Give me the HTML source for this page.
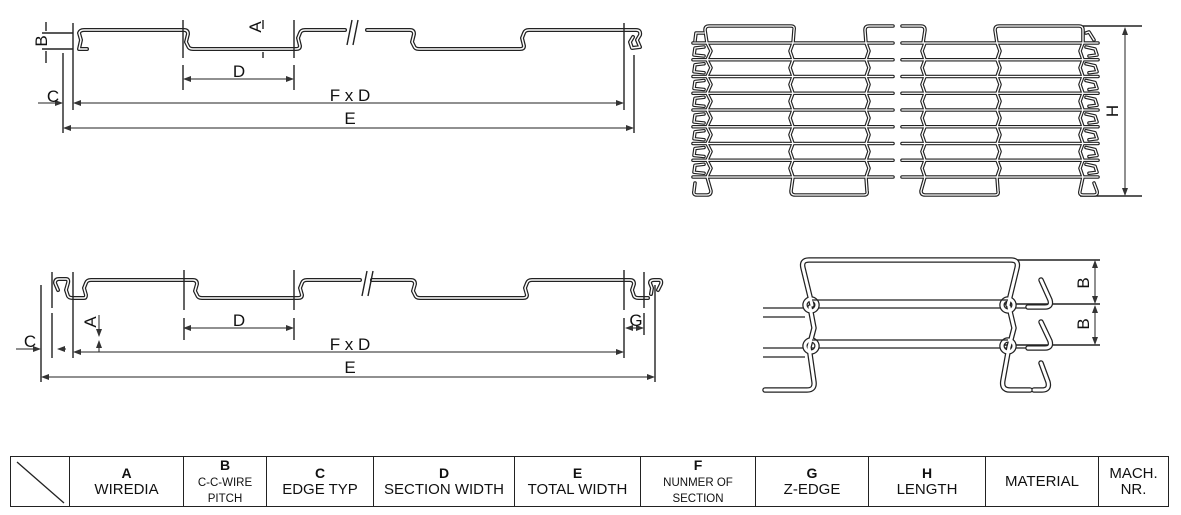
<!DOCTYPE html>
<html><head><meta charset="utf-8"><style>
html,body{margin:0;padding:0;background:#fff;width:1181px;height:515px;overflow:hidden;font-family:"Liberation Sans",Arial,sans-serif}
svg{position:absolute;left:0;top:0}
table{position:absolute;left:10px;top:456px;border-collapse:collapse;height:51px;table-layout:fixed}
td{border:1.5px solid #222;text-align:center;vertical-align:middle;padding:0;font-size:15px;line-height:16px;color:#111}
td b{font-size:14px}
.s{font-size:11.5px;line-height:12px}
</style></head><body>
<svg width="1181" height="515" viewBox="0 0 1181 515">
<defs>
<marker id="ar" markerWidth="8" markerHeight="6" refX="7" refY="3" orient="auto-start-reverse" markerUnits="userSpaceOnUse"><path d="M0,0 L8,3 L0,6 z" fill="#333"/></marker>
</defs>
<g fill="none" stroke-linejoin="round" stroke-linecap="round">
<path d="M87,49 L79,49 L81,40 L79,33 Q80,30 84,30 L184,30 Q188,30 188,34 L186,42 L188,46 Q189,49 193,49 L296,49 Q300,49 300,46 L298,38 L300,33 Q301,30 305,30 L345,30 M367,30 L410,30 Q414,30 414,34 L412,42 L414,46 Q415,49 419,49 L520,49 Q524,49 524,46 L522,38 L524,33 Q525,30 529,30 L636,30 Q641,30 640,35 L637,40 L640,47 L632,48 L630,42 L633,37" stroke="#222" stroke-width="4"/>
<path d="M87,49 L79,49 L81,40 L79,33 Q80,30 84,30 L184,30 Q188,30 188,34 L186,42 L188,46 Q189,49 193,49 L296,49 Q300,49 300,46 L298,38 L300,33 Q301,30 305,30 L345,30 M367,30 L410,30 Q414,30 414,34 L412,42 L414,46 Q415,49 419,49 L520,49 Q524,49 524,46 L522,38 L524,33 Q525,30 529,30 L636,30 Q641,30 640,35 L637,40 L640,47 L632,48 L630,42 L633,37" stroke="#fff" stroke-width="1.5"/>
<path d="M58,290 L55,283 Q55,279 59,279 L66,279 Q69,279 68,283 L66,290 L68,296 Q69,298 73,298 L84,298 Q86,298 86,295 L84,288 L86,283 Q87,280 91,280 L193,280 Q197,280 197,284 L195,291 L197,295 Q198,298 202,298 L298,298 Q302,298 302,295 L300,288 L302,283 Q303,280 307,280 L360,280 M372,280 L411,280 Q415,280 415,284 L413,291 L415,295 Q416,298 420,298 L523,298 Q527,298 527,295 L525,288 L527,283 Q528,280 532,280 L630,280 Q634,280 634,284 L632,290 L634,296 Q635,298 639,298 L648,298 M651,294 L652,288 L650,283 Q650,280 654,280 L659,280 Q662,280 661,284 L658,290" stroke="#222" stroke-width="4"/>
<path d="M58,290 L55,283 Q55,279 59,279 L66,279 Q69,279 68,283 L66,290 L68,296 Q69,298 73,298 L84,298 Q86,298 86,295 L84,288 L86,283 Q87,280 91,280 L193,280 Q197,280 197,284 L195,291 L197,295 Q198,298 202,298 L298,298 Q302,298 302,295 L300,288 L302,283 Q303,280 307,280 L360,280 M372,280 L411,280 Q415,280 415,284 L413,291 L415,295 Q416,298 420,298 L523,298 Q527,298 527,295 L525,288 L527,283 Q528,280 532,280 L630,280 Q634,280 634,284 L632,290 L634,296 Q635,298 639,298 L648,298 M651,294 L652,288 L650,283 Q650,280 654,280 L659,280 Q662,280 661,284 L658,290" stroke="#fff" stroke-width="1.5"/>
</g>
<g stroke="#222" stroke-width="1.4" fill="none">
<path d="M347,45 L352,20 M353,45 L358,20"/>
<path d="M73,23 V110 M63,53 V133 M183,20 V58 M183,65 V90 M294,20 V58 M294,65 V90 M624,23 V110 M634,55 V133"/>
<path d="M42,33 H73 M42,49 H73 M46,22 V31 M46,51 V63"/>
<path d="M263,20 V29 M263,52 V58"/>
<line x1="184" y1="79" x2="293" y2="79" stroke-width="1" marker-start="url(#ar)" marker-end="url(#ar)"/>
<line x1="74" y1="103" x2="623" y2="103" stroke-width="1" marker-start="url(#ar)" marker-end="url(#ar)"/>
<line x1="64" y1="128" x2="633" y2="128" stroke-width="1" marker-start="url(#ar)" marker-end="url(#ar)"/>
<line x1="38" y1="103" x2="62" y2="103" stroke-width="1" marker-end="url(#ar)"/>
<path d="M362,296 L367,271 M368,296 L373,271"/>
<path d="M41,285 V382 M52,272 V308 M52,313 V358 M73,272 V358 M184,270 V310 M184,318 V340 M294,270 V310 M294,318 V340 M624,270 V310 M624,318 V358 M644,272 V308 M644,313 V335 M655,285 V382"/>
<line x1="184" y1="328" x2="293" y2="328" stroke-width="1" marker-start="url(#ar)" marker-end="url(#ar)"/>
<line x1="74" y1="352" x2="623" y2="352" stroke-width="1" marker-start="url(#ar)" marker-end="url(#ar)"/>
<line x1="42" y1="377" x2="654" y2="377" stroke-width="1" marker-start="url(#ar)" marker-end="url(#ar)"/>
<line x1="16" y1="349" x2="40" y2="349" stroke-width="1" marker-end="url(#ar)"/>
<line x1="66" y1="349" x2="58" y2="349" stroke-width="1" marker-end="url(#ar)"/>
<line x1="99" y1="315" x2="99" y2="336" stroke-width="1" marker-end="url(#ar)"/>
<line x1="99" y1="352" x2="99" y2="341" stroke-width="1" marker-end="url(#ar)"/>
<line x1="626" y1="328" x2="643" y2="328" stroke-width="1" marker-start="url(#ar)" marker-end="url(#ar)"/>
<path d="M1083,26 H1142 M1080,196 H1142"/>
<line x1="1125" y1="28" x2="1125" y2="195" stroke-width="1" marker-start="url(#ar)" marker-end="url(#ar)"/>
<path d="M1000,260 H1100 M1000,304 H1100 M1000,345 H1100"/>
<line x1="1095" y1="261" x2="1095" y2="303" stroke-width="1" marker-start="url(#ar)" marker-end="url(#ar)"/>
<line x1="1095" y1="306" x2="1095" y2="344" stroke-width="1" marker-start="url(#ar)" marker-end="url(#ar)"/>
</g>
<g font-family="Liberation Sans, Arial, sans-serif" font-size="17" fill="#111" text-anchor="middle">
<text x="239" y="77">D</text>
<text x="350" y="101">F x D</text>
<text x="350" y="124">E</text>
<text x="53" y="102">C</text>
<text transform="translate(41,41) rotate(-90)" y="6">B</text>
<text transform="translate(255,27) rotate(-90)" y="6">A</text>
<text x="239" y="326">D</text>
<text x="350" y="350">F x D</text>
<text x="350" y="373">E</text>
<text x="30" y="347">C</text>
<text x="636" y="326">G</text>
<text transform="translate(90,322) rotate(-90)" y="6">A</text>
<text transform="translate(1112,111) rotate(-90)" y="6">H</text>
<text transform="translate(1083,283) rotate(-90)" y="6">B</text>
<text transform="translate(1083,324) rotate(-90)" y="6">B</text>
</g>
<defs>
<g id="row">
<path d="M693,0 H893 M902,0 H1098"/>
<path d="M707,0 L711,8 L707,16.75 M793,0 L790,8 L793,16.75 M866,0 L869,8 L866,16.75 M925,0 L922,8 L925,16.75 M997,0 L1000,8 L997,16.75 M1083,0 L1080,8 L1083,16.75"/>
<path d="M704,4 L695,5 L694,12 L704,13 M1086,4 L1095,6 L1097,12 L1089,13"/>
</g>
</defs>
<g fill="none" stroke-linejoin="round" stroke-linecap="round">
<g id="mesh">
<path d="M707,43 L705,30 Q705,26 709,26 L791,26 Q795,26 794,30 L793,43 M866,43 L865,30 Q865,26 869,26 L893,26 M902,26 L921,26 Q925,26 925,30 L923,43 M997,43 L995,30 Q995,26 999,26 L1079,26 Q1083,26 1083,30 L1083,43 M1086,33 L1089,32 L1094,40 M704,33 L696,33 L695,41 M793,177 L791,191 Q791,195 795,195 L864,195 Q868,195 867,191 L866,177 M925,177 L921,191 Q921,195 925,195 L995,195 Q999,195 998,191 L997,177 M707,177 L711,191 Q711,195 707,195 L697,195 Q693,195 694,191 L695,183 M1083,177 L1080,191 Q1079,195 1083,195 L1094,195 Q1098,195 1097,191 L1094,183"/>
<use href="#row" y="43"/><use href="#row" y="59.75"/><use href="#row" y="76.5"/><use href="#row" y="93.25"/><use href="#row" y="110"/><use href="#row" y="126.75"/><use href="#row" y="143.5"/><use href="#row" y="160.25"/>
<path d="M693,177 H893 M902,177 H1098"/>
</g>
</g>
<g fill="none" stroke-linejoin="round" stroke-linecap="round">
<use href="#mesh" stroke="#222" stroke-width="3.6"/>
<use href="#mesh" stroke="#fff" stroke-width="1.3"/>
</g>
<g stroke="#222" stroke-width="1.3" fill="none">
<path d="M763,308 H1045 M763,317 H805 M763,348 H1045 M763,357 H805"/>
</g>
<g fill="none" stroke-linejoin="round" stroke-linecap="round">
<g id="det">
<path d="M812,305 L803,268 Q801,260 809,260 L1011,260 Q1019,260 1017,268 L1008,305"/>
<path d="M810,307 L814,328 L809,347 L814,382 Q815,390 807,390 L765,390"/>
<path d="M1009,307 L1014,328 L1009,347 L1003,380 Q1001,390 1010,390 L1030,390"/>
<path d="M1041,363 L1048,382 Q1050,390 1042,390 L1034,390"/>
<path d="M1041,280 L1050,300 Q1052,307 1045,307 L1028,307"/>
<path d="M1041,322 L1050,341 Q1052,348 1045,348 L1028,348"/>
<circle cx="811" cy="305" r="6"/><circle cx="1008" cy="305" r="6"/>
<circle cx="811" cy="346" r="6"/><circle cx="1008" cy="346" r="6"/>
</g>
</g>
<g fill="none" stroke-linejoin="round" stroke-linecap="round">
<use href="#det" stroke="#222" stroke-width="5.5"/>
<use href="#det" stroke="#fff" stroke-width="3"/>
</g>
<g stroke="#222" stroke-width="1.3" fill="none">
<path d="M812,300 H1008 M812,340 H1008"/>
</g>
</svg>
<table>
<colgroup><col style="width:59px"><col style="width:114px"><col style="width:83px"><col style="width:107px"><col style="width:141px"><col style="width:126px"><col style="width:115px"><col style="width:113px"><col style="width:117px"><col style="width:113px"><col style="width:70px"></colgroup>
<tr>
<td style="position:relative"><svg width="59" height="51" style="position:absolute;left:0;top:0"><line x1="6" y1="5" x2="53" y2="46" stroke="#222" stroke-width="1.3"/></svg></td>
<td><b>A</b><br>WIREDIA</td>
<td><b>B</b><br><span class="s">C-C-WIRE<br>PITCH</span></td>
<td><b>C</b><br>EDGE TYP</td>
<td><b>D</b><br>SECTION WIDTH</td>
<td><b>E</b><br>TOTAL WIDTH</td>
<td><b>F</b><br><span class="s">NUNMER OF<br>SECTION</span></td>
<td><b>G</b><br>Z-EDGE</td>
<td><b>H</b><br>LENGTH</td>
<td>MATERIAL</td>
<td>MACH.<br>NR.</td>
</tr>
</table>
</body></html>
